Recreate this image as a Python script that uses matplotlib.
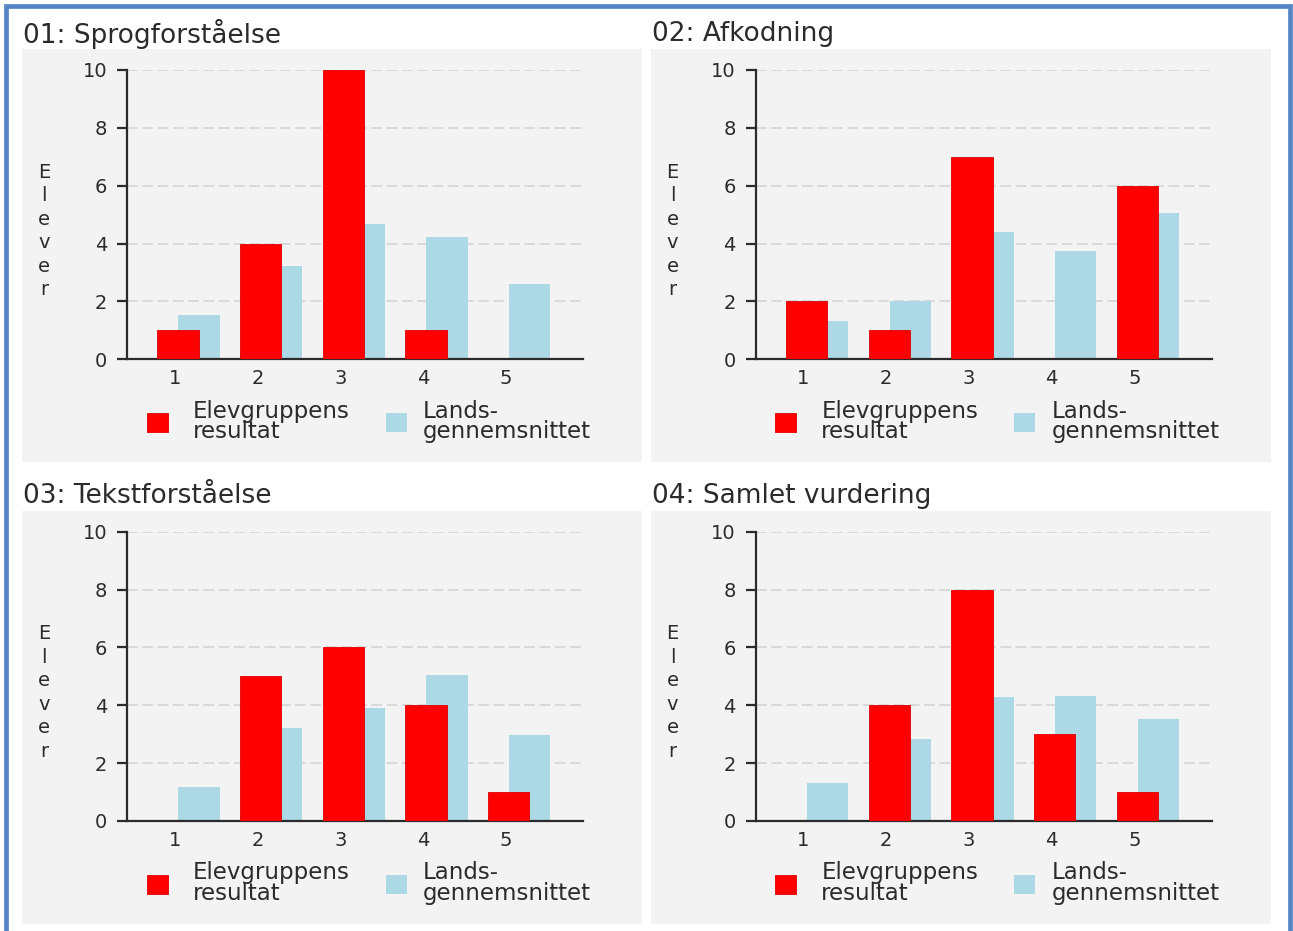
import numpy as np
import matplotlib.pyplot as plt
from matplotlib.patches import Rectangle

# Score levels 1-5 and number of pupils per level
levels = np.array([1, 2, 3, 4, 5])
titles = ["01: Sprogforståelse", "02: Afkodning", "03: Tekstforståelse", "04: Samlet vurdering"]
group_counts = [
    [1, 4, 10, 1, 0],
    [2, 1, 7, 0, 6],
    [0, 5, 6, 4, 1],
    [0, 4, 8, 3, 1],
]
national_avg = [
    [1.53, 3.24, 4.67, 4.24, 2.6],
    [1.33, 2.0, 4.39, 3.75, 5.04],
    [1.19, 3.23, 3.9, 5.03, 2.97],
    [1.33, 2.83, 4.3, 4.33, 3.53],
]
group_label = "Elevgruppens\nresultat"
national_label = "Lands-\ngennemsnittet"

W, H = 1293, 931
RED = "#ff0000"
BLUE = "#add8e6"
PANEL_BG = "#f3f3f3"
TXT = "#2b2b2b"


def fx(px):
    return px / W


def fy(py):
    return 1 - py / H


def add_key(ax, handle, label, x_px, y_px, textpad):
    leg = ax.legend([handle], [label], loc="center left",
                    bbox_to_anchor=(fx(x_px), fy(y_px)),
                    bbox_transform=fig.transFigure, frameon=False,
                    fontsize=16.5, handlelength=0.92, handleheight=0.92,
                    handletextpad=textpad, borderpad=0, borderaxespad=0)
    for t in leg.get_texts():
        t.set_color(TXT)
        t.set_linespacing(0.88)
    return leg


fig = plt.figure(figsize=(W / 100, H / 100), dpi=100)
fig.patch.set_facecolor("white")

# outer blue frame
fig.add_artist(Rectangle((fx(6), fy(960)), (1290 - 6) / W, (960 - 6) / H,
                         transform=fig.transFigure, fill=False,
                         edgecolor="#5585c4", linewidth=3.4, zorder=-2))

col_dx = [0, 628.5]
row_dy = [0, 461.7]

for i, title in enumerate(titles):
    dx = col_dx[i % 2]
    dy = row_dy[i // 2]

    # light grey panel behind each chart
    fig.add_artist(Rectangle((fx(22 + dx), fy(462 + dy)), 620 / W, 413 / H,
                             transform=fig.transFigure, facecolor=PANEL_BG,
                             edgecolor="none", zorder=-1))
    fig.text(fx(23 + dx), fy(34 + dy), title, fontsize=19, color=TXT,
             ha="left", va="center")
    fig.text(fx(44 + dx), fy(231 + dy), "\n".join("Elever"), fontsize=14,
             color=TXT, ha="center", va="center", linespacing=1.3)

    left, right = 127.3 + dx, 583.3 + dx
    top, bottom = 70 + dy, 359.3 + dy
    ax = fig.add_axes([fx(left), fy(bottom), (right - left) / W, (bottom - top) / H])
    ax.set_facecolor("none")

    blue_bars = ax.bar(levels + 0.29, national_avg[i], 0.5, color=BLUE, zorder=2)
    red_bars = ax.bar(levels + 0.036, group_counts[i], 0.5, color=RED,
                      edgecolor="#e00000", linewidth=0.6, zorder=3)

    ax.set_xlim(0.423, 5.937)
    ax.set_ylim(0, 10)
    ax.set_xticks(levels)
    ax.set_yticks([0, 2, 4, 6, 8, 10])
    ax.yaxis.grid(True, linestyle=(0, (7, 3)), color="#d2d2d2", linewidth=1.1)
    ax.set_axisbelow(True)

    for s in ["top", "right"]:
        ax.spines[s].set_visible(False)
    for s in ["left", "bottom"]:
        ax.spines[s].set_color(TXT)
        ax.spines[s].set_linewidth(1.6)

    ax.tick_params(axis="x", length=0, pad=7, labelsize=14, labelcolor=TXT)
    ax.tick_params(axis="y", length=7.5, width=1.6, color=TXT, pad=7,
                   labelsize=14, labelcolor=TXT)

    # two keys side by side below the axis
    key_group = add_key(ax, red_bars, group_label, 146.7 + dx, 421.5 + dy, 1.09)
    ax.add_artist(key_group)
    add_key(ax, blue_bars, national_label, 385.5 + dx, 421.5 + dy, 0.72)

fig.savefig("out.png", dpi=100)
